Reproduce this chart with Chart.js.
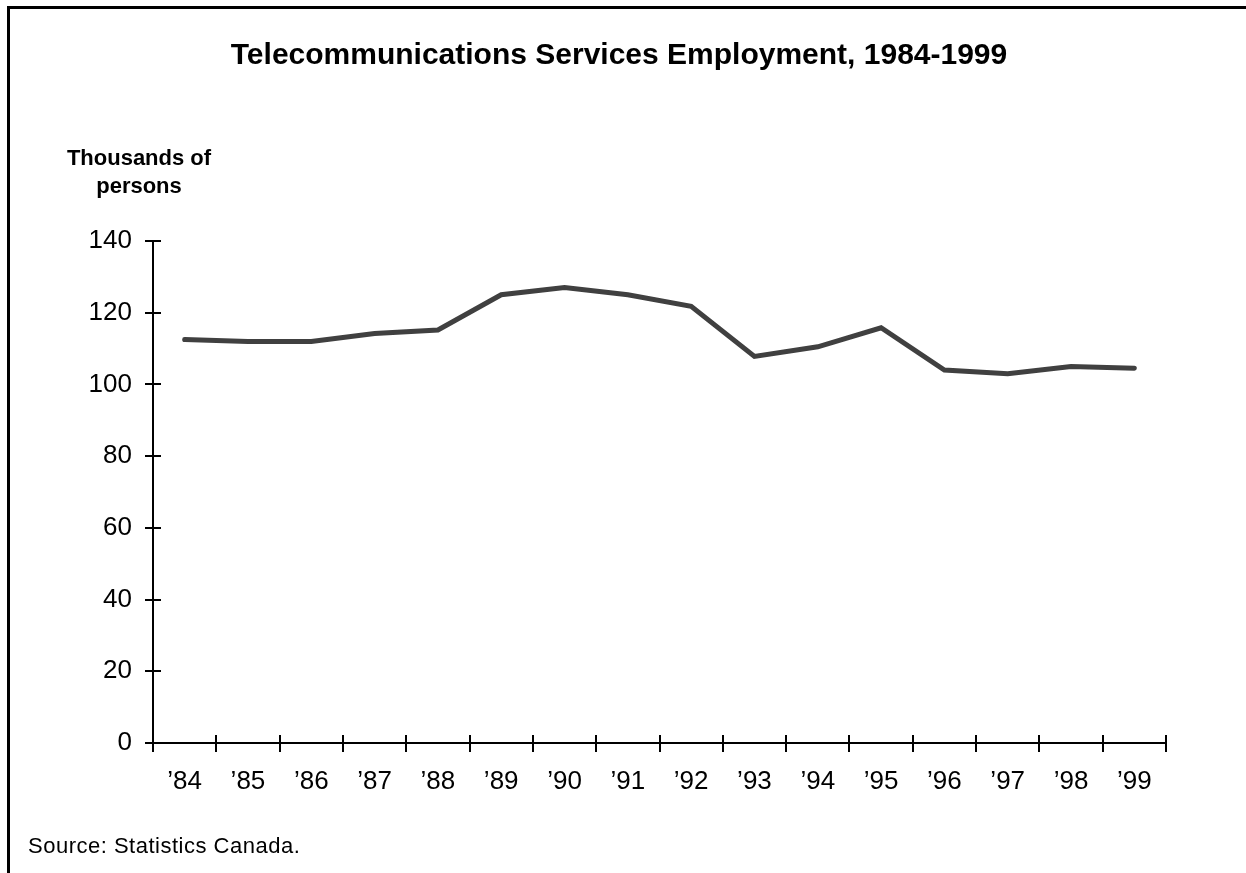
<!DOCTYPE html>
<html>
<head>
<meta charset="utf-8">
<script src="https://cdn.jsdelivr.net/npm/chart.js@4.4.0/dist/chart.umd.min.js"></script>
<style>
  html, body { margin: 0; padding: 0; background: #fff; }
  #wrap { width: 1246px; height: 873px; position: relative; }
</style>
</head>
<body>
<div id="wrap"><canvas id="chart" width="1246" height="873"></canvas></div>
<script>
const years = ["\u201984", "\u201985", "\u201986", "\u201987", "\u201988", "\u201989", "\u201990", "\u201991",
  "\u201992", "\u201993", "\u201994", "\u201995", "\u201996", "\u201997", "\u201998", "\u201999"];
const employment = [112.5, 112, 112, 114.2, 115.2, 125, 127, 125, 121.8, 107.8, 110.5, 115.8, 104, 103, 105, 104.5];
const yTicks = [0, 20, 40, 60, 80, 100, 120, 140];

const FONT = "Arial, 'Liberation Sans', sans-serif";

// frame, titles, axis lines and crossing tick marks
const decorations = {
  id: "decorations",
  afterDraw(chart) {
    const ctx = chart.ctx;
    const { left, right, top, bottom } = chart.chartArea;
    const x = chart.scales.x, y = chart.scales.y;
    ctx.save();

    // outer frame (top and left edges)
    ctx.strokeStyle = "#000";
    ctx.lineWidth = 3;
    ctx.beginPath();
    ctx.moveTo(8.5, 873);
    ctx.lineTo(8.5, 7.5);
    ctx.lineTo(1246, 7.5);
    ctx.stroke();

    ctx.fillStyle = "#000";
    ctx.textAlign = "center";
    ctx.textBaseline = "alphabetic";
    ctx.font = "bold 30px " + FONT;
    ctx.fillText("Telecommunications Services Employment, 1984-1999", 619, 64);

    ctx.font = "bold 22px " + FONT;
    ctx.fillText("Thousands of", 139, 165);
    ctx.fillText("persons", 139, 193);

    ctx.textAlign = "left";
    ctx.font = "22px " + FONT;
    ctx.letterSpacing = "0.5px";
    ctx.fillText("Source: Statistics Canada.", 28, 853);
    ctx.letterSpacing = "0px";

    // axes
    ctx.lineWidth = 2;
    ctx.beginPath();
    ctx.moveTo(left, top);
    ctx.lineTo(left, bottom);
    ctx.lineTo(right, bottom);
    ctx.stroke();

    ctx.beginPath();
    yTicks.forEach(v => {
      const py = Math.round(y.getPixelForValue(v));
      ctx.moveTo(left - 8, py);
      ctx.lineTo(left + 8, py);
    });
    for (let i = 0; i <= years.length; i++) {
      const px = Math.round(x.getPixelForValue(i - 0.5));
      ctx.moveTo(px, bottom - 8);
      ctx.lineTo(px, bottom + 9);
    }
    ctx.stroke();
    ctx.restore();
  }
};

new Chart(document.getElementById("chart"), {
  type: "line",
  data: {
    labels: years,
    datasets: [{
      data: employment,
      borderColor: "#404040",
      borderWidth: 5,
      borderJoinStyle: "miter",
      borderCapStyle: "round",
      pointRadius: 0,
      tension: 0,
      fill: false
    }]
  },
  options: {
    responsive: false,
    animation: false,
    events: [],
    layout: { padding: { left: 0, top: 241, right: 80, bottom: 0 } },
    plugins: { legend: { display: false }, tooltip: { enabled: false } },
    scales: {
      x: {
        offset: true,
        grid: { display: false, offset: true },
        border: { display: false },
        ticks: { color: "#000", font: { family: FONT, size: 26 }, padding: 15, maxRotation: 0, autoSkip: false },
        afterFit(scale) { scale.height = 130; }
      },
      y: {
        min: 0,
        max: 140,
        grid: { display: false },
        border: { display: false },
        ticks: { stepSize: 20, color: "#000", font: { family: FONT, size: 26 }, padding: 13 },
        afterFit(scale) { scale.width = 153; }
      }
    }
  },
  plugins: [decorations]
});
</script>
</body>
</html>
